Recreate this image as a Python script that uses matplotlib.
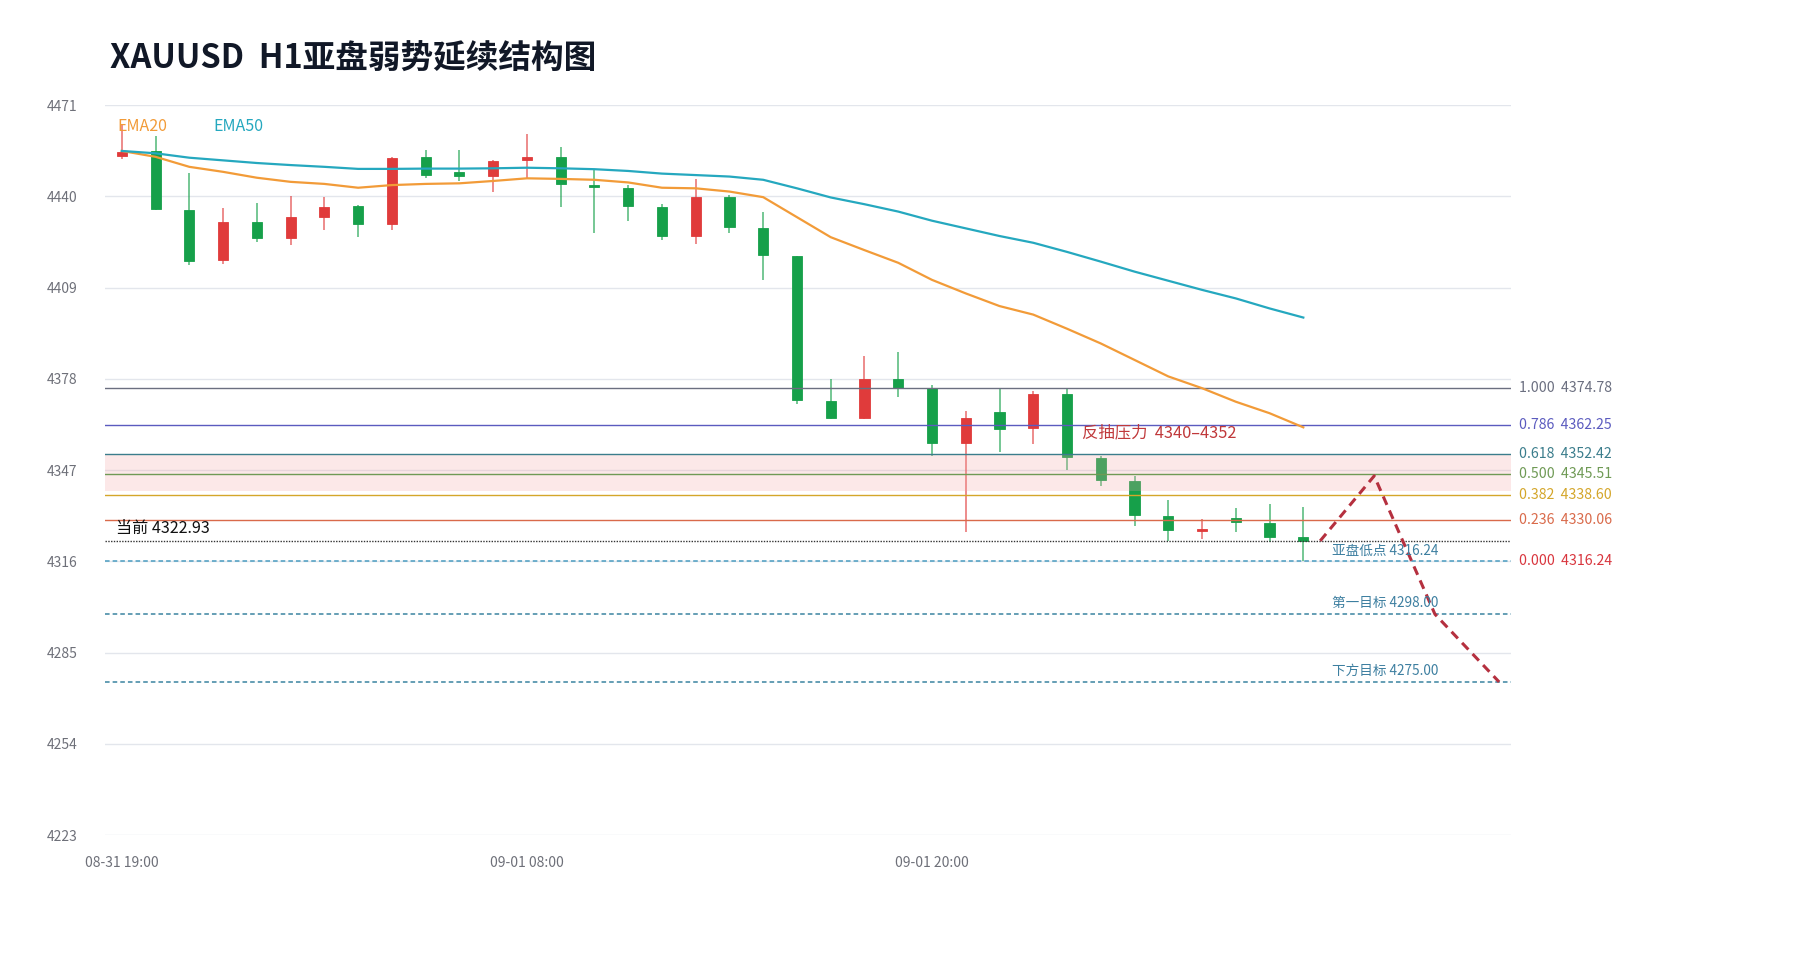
import matplotlib
matplotlib.use("Agg")
import matplotlib.pyplot as plt
import matplotlib.transforms as mtransforms

plt.rcParams['font.family'] = ['Noto Sans CJK SC', 'DejaVu Sans']

# --- dados (H1, XAUUSD) ---
x_labels = ["08-31 19:00", "09-01 08:00", "09-01 20:00"]
x_label_idx = [0, 12, 24]

opens = [4453.8, 4455.4, 4435.4, 4418.2, 4431.3, 4425.9, 4433.1, 4436.6, 4430.7, 4453.2,
         4448.1, 4446.8, 4452.2, 4453.3, 4443.9, 4442.8, 4436.4, 4426.5, 4439.9, 4429.3,
         4419.8, 4370.6, 4364.6, 4377.9, 4374.8, 4356.1, 4366.6, 4361.3, 4372.7, 4351.0,
         4343.4, 4331.5, 4326.4, 4330.7, 4329.0, 4324.2]
highs = [4464.2, 4460.6, 4448.0, 4435.9, 4437.7, 4440.1, 4439.6, 4436.9, 4453.4, 4455.6,
         4455.6, 4452.3, 4461.3, 4456.6, 4448.9, 4443.8, 4437.3, 4445.8, 4440.3, 4434.7,
         4419.8, 4377.8, 4385.8, 4387.1, 4375.8, 4367.2, 4374.8, 4373.9, 4374.8, 4351.8,
         4345.0, 4336.8, 4330.4, 4334.2, 4335.5, 4334.4]
lows = [4452.6, 4435.5, 4416.7, 4416.9, 4424.4, 4423.4, 4428.7, 4426.3, 4428.5, 4446.3,
        4445.3, 4441.6, 4446.1, 4436.3, 4427.6, 4431.5, 4425.3, 4423.9, 4427.4, 4411.7,
        4369.3, 4364.4, 4364.2, 4371.7, 4351.8, 4326.1, 4353.2, 4355.8, 4347.0, 4341.6,
        4328.0, 4322.9, 4323.5, 4326.1, 4322.7, 4316.24]
closes = [4455.1, 4435.6, 4418.1, 4431.4, 4425.9, 4433.0, 4436.5, 4430.7, 4453.1, 4447.3,
          4446.8, 4452.0, 4453.3, 4444.3, 4443.0, 4436.6, 4426.5, 4439.9, 4429.6, 4420.0,
          4370.8, 4364.7, 4377.9, 4374.9, 4356.1, 4364.7, 4361.1, 4372.7, 4351.3, 4343.6,
          4331.6, 4326.6, 4326.8, 4329.4, 4324.4, 4322.93]

ema20 = [4455.4, 4453.4, 4450.0, 4448.3, 4446.3, 4444.9, 4444.2, 4442.9, 4443.8, 4444.2,
         4444.4, 4445.2, 4446.1, 4445.9, 4445.6, 4444.7, 4442.9, 4442.7, 4441.6, 4439.7,
         4432.9, 4426.1, 4421.7, 4417.4, 4411.6, 4407.0, 4402.7, 4399.8, 4395.0, 4390.0,
         4384.4, 4378.8, 4374.8, 4370.2, 4366.3, 4361.5]
ema50 = [4455.4, 4454.6, 4453.1, 4452.2, 4451.3, 4450.6, 4450.0, 4449.3, 4449.3, 4449.4,
         4449.4, 4449.5, 4449.7, 4449.5, 4449.2, 4448.6, 4447.7, 4447.2, 4446.7, 4445.6,
         4442.7, 4439.6, 4437.3, 4434.8, 4431.7, 4429.1, 4426.5, 4424.2, 4421.1, 4417.8,
         4414.4, 4411.3, 4408.2, 4405.3, 4401.9, 4398.8]

fib_ratios = ["1.000", "0.786", "0.618", "0.500", "0.382", "0.236", "0.000"]
fib_prices = [4374.78, 4362.25, 4352.42, 4345.51, 4338.60, 4330.06, 4316.24]
fib_colors = ["#6b6f80", "#5b5bbf", "#3b7d8c", "#6f9a55", "#d4a62a", "#d96a4a", "#d9363e"]

zone_low, zone_high = 4340, 4352
current = 4322.93
asia_low = 4316.24
targets = [4298.00, 4275.00]
target_names = ["第一目标", "下方目标"]

# projeção (índice da vela, preço)
proj_x = [35.5, 37.1, 38.9, 40.8]
proj_y = [4322.93, 4345.0, 4298.0, 4275.0]

y_ticks = [4223, 4254, 4285, 4316, 4347, 4378, 4409, 4440, 4471]

UP = "#e03b3b"
DOWN = "#16a04a"

fig = plt.figure(figsize=(18, 9.6), dpi=100)
ax = fig.add_axes([0.0583, 0.1302, 0.7811, 0.7604])
ax.set_xlim(-0.5, 41.15)
ax.set_ylim(4223, 4471)

for s in ax.spines.values():
    s.set_visible(False)
ax.set_yticks(y_ticks)
ax.set_xticks(x_label_idx)
ax.set_xticklabels(x_labels)
ax.tick_params(axis="both", length=0, colors="#6e7079", labelsize=10)
ax.tick_params(axis="y", pad=20)
ax.tick_params(axis="x", pad=15)
ax.grid(axis="y", color="#e3e6ec", linewidth=1)
ax.set_axisbelow(True)

# --- velas ---
idx = list(range(len(opens)))
cols = [UP if c >= o else DOWN for o, c in zip(opens, closes)]
ax.vlines(idx, lows, highs, colors=cols, linewidth=1.1, alpha=0.75, zorder=2)
heights = [max(abs(c - o), 0.4) for o, c in zip(opens, closes)]
bottoms = [min(o, c) for o, c in zip(opens, closes)]
ax.bar(idx, heights, bottom=bottoms, width=0.3, color=cols, edgecolor=cols,
       linewidth=0.6, zorder=3)

# zona de pressão
ax.axhspan(zone_low, zone_high, color="#f4a6a6", alpha=0.25, lw=0, zorder=4)
ax.annotate("反抽压力  4340–4352", xy=(28.45, zone_high), xytext=(0, 10),
            textcoords="offset points", color="#c0393b", fontsize=11.8,
            ha="left", va="bottom", zorder=8)

# fibonacci
trans = mtransforms.blended_transform_factory(ax.transAxes, ax.transData)
for r, p, c in zip(fib_ratios, fib_prices, fib_colors):
    if r != "0.000":
        ax.axhline(p, color=c, linewidth=1, zorder=5)
    ax.text(1.006, p, f"{r}  {p:.2f}", transform=trans, color=c, fontsize=10.2,
            ha="left", va="center", clip_on=False)

# mínima asiática e alvos
ax.axhline(asia_low, color="#4a9cc0", linewidth=1.1, linestyle=(0, (3, 2)), zorder=5)
ax.annotate(f"亚盘低点 {asia_low:.2f}", xy=(0.8725, asia_low), xycoords=trans,
            xytext=(0, 2), textcoords="offset points",
            color="#3d7fa0", fontsize=9.8, ha="left", va="bottom", zorder=8)
for name, t in zip(target_names, targets):
    ax.axhline(t, color="#3b84a0", linewidth=1.1, linestyle=(0, (3, 2)), zorder=5)
    ax.annotate(f"{name} {t:.2f}", xy=(0.8725, t), xycoords=trans, xytext=(0, 3),
                textcoords="offset points", color="#3d7fa0", fontsize=9.8,
                ha="left", va="bottom", zorder=8)

# preço atual
ax.axhline(current, color="#333333", linewidth=1, linestyle=(0, (1, 1)), zorder=5)
ax.annotate(f"当前 {current:.2f}", xy=(0.008, current), xycoords=trans, xytext=(0, 3),
            textcoords="offset points", color="#111111", fontsize=11.6,
            ha="left", va="bottom", zorder=8)

# médias
ax.plot(idx, ema20, color="#f29b38", linewidth=1.6, zorder=6)
ax.plot(idx, ema50, color="#25a8bf", linewidth=1.6, zorder=6)
ax.text(0.009, 0.971, "EMA20", transform=ax.transAxes, color="#f29b38",
        fontsize=11.5, ha="left", va="center")
ax.text(0.077, 0.971, "EMA50", transform=ax.transAxes, color="#25a8bf",
        fontsize=11.5, ha="left", va="center")

# projeção
ax.plot(proj_x, proj_y, color="#b5303f", linewidth=2.2, linestyle=(0, (3, 2)),
        zorder=7, clip_on=False)

fig.text(0.061, 0.938, "XAUUSD  H1亚盘弱势延续结构图", fontsize=23.5, fontweight="bold",
         color="#111827", ha="left", va="center")

fig.savefig("out.png", dpi=100, facecolor="white")
